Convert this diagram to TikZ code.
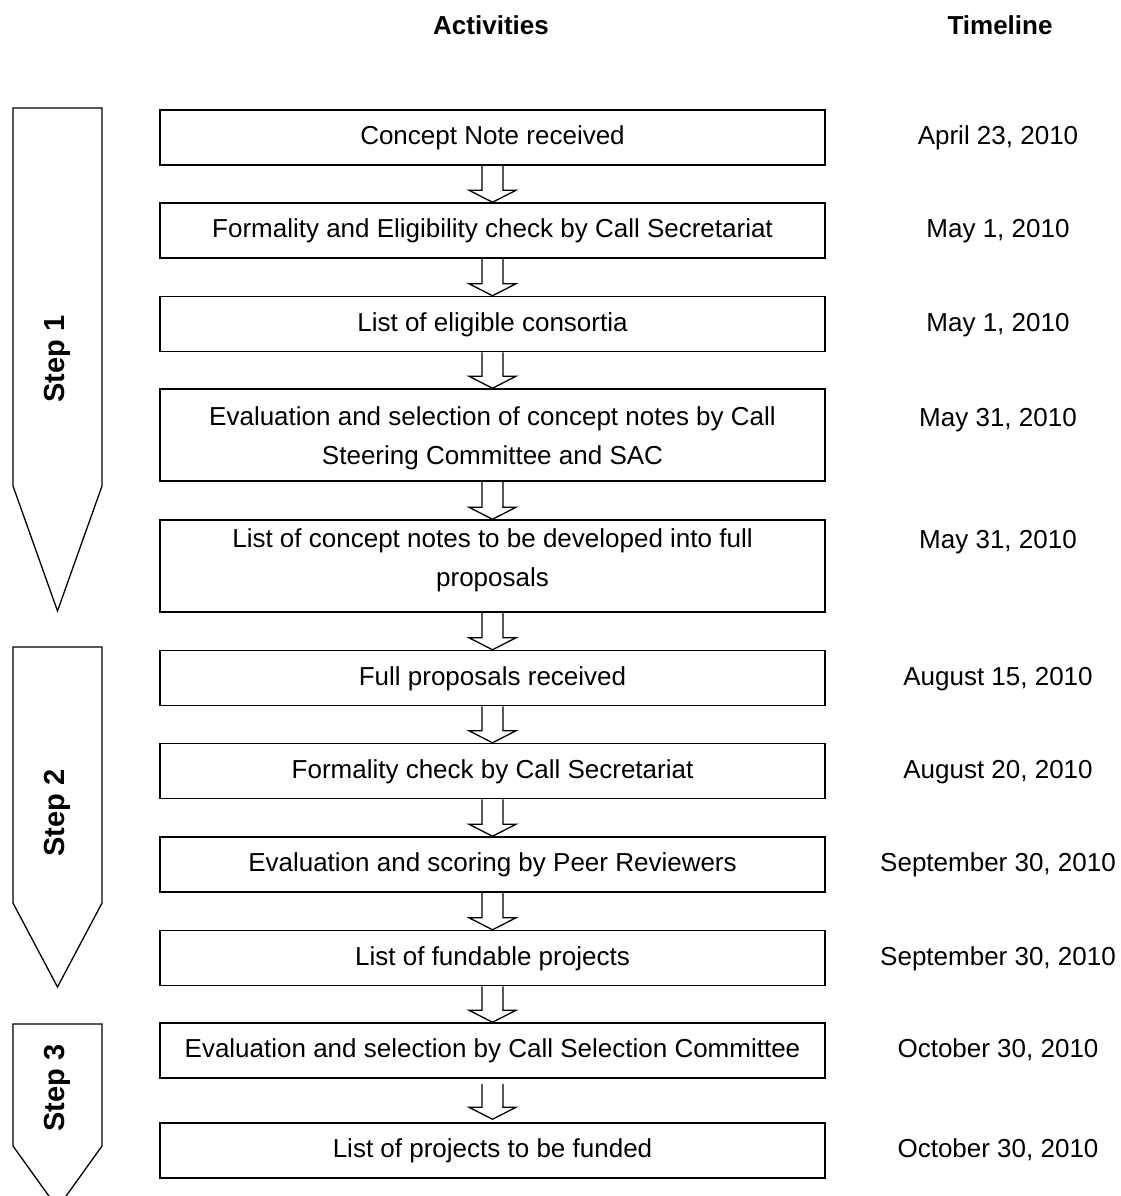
\documentclass[tikz,border=0pt]{standalone}
\usepackage{fontspec}
\setmainfont{Liberation Sans}
\usetikzlibrary{calc}
\newcommand{\hollowarr}[4]{%
  \draw[arrline] ($(#1.south)+(-10.5,#3)$) -- ($(#2.north)+(-10.5,-12-#4)$) -- ($(#2.north)+(-23.5,-12-#4)$) -- ($(#2.north)+(0,-#4)$) -- ($(#2.north)+(23.5,-12-#4)$) -- ($(#2.north)+(10.5,-12-#4)$) -- ($(#1.south)+(10.5,#3)$);}
\begin{document}
\begin{tikzpicture}[x=1pt,y=-1pt,
  box/.style={draw, line width=1.5pt, minimum width=665pt, inner sep=0pt, align=center,
    font=\fontsize{26}{30}\selectfont},
  sbox/.style={box, minimum height=55pt, text height=19pt, text depth=5pt},
  dbox/.style={box, minimum height=92pt},
  twoline/.style={inner sep=0pt, align=center, font=\fontsize{26}{39}\selectfont},
  datelbl/.style={font=\fontsize{26}{30}\selectfont, text height=19pt, text depth=5pt},
  headlbl/.style={font=\fontsize{26}{30}\selectfont\bfseries, text height=19pt, text depth=5pt},
  stepline/.style={draw, line width=1.3pt, line join=miter},
  steplbl/.style={font=\fontsize{29}{34}\selectfont\bfseries, rotate=90},
  arrline/.style={line width=1.3pt, line join=miter}]
\useasboundingbox (0,0) rectangle (1121,1196);
\clip (0,0) rectangle (1121,1196);
% headers
\node[headlbl] (hact) at (491,28) {Activities};
\node[headlbl] (htime) at (1000,28) {Timeline};
% step shapes
\draw[stepline] (13,108) -- (102,108) -- (102,486) -- (57.5,611) -- (13,486) -- cycle;
\draw[stepline] (13,647) -- (102,647) -- (102,903) -- (57.5,987) -- (13,903) -- cycle;
\draw[stepline] (13,1024) -- (102,1024) -- (102,1146) -- (57.5,1208) -- (13,1146) -- cycle;
\node[steplbl] (s1) at (57.5,359) {Step 1};
\node[steplbl] (s2) at (57.5,813) {Step 2};
\node[steplbl] (s3) at (57.5,1088) {Step 3};
% boxes
\node[sbox] (b1) at (492.5,137.5) {Concept Note received};
\node[sbox] (b2) at (492.5,230.5) {Formality and Eligibility check by Call Secretariat};
\node[sbox] (b3) at (492.5,324) {List of eligible consortia};
\node[dbox] (b4) at (492.5,435) {};
\node[twoline] (b4t) at (492.5,438.5) {Evaluation and selection of concept notes by Call\\Steering Committee and SAC};
\node[dbox] (b5) at (492.5,566) {};
\node[twoline] (b5t) at (492.5,560.5) {List of concept notes to be developed into full\\proposals};
\node[sbox] (b6) at (492.5,678) {Full proposals received};
\node[sbox] (b7) at (492.5,771) {Formality check by Call Secretariat};
\node[sbox] (b8) at (492.5,864.5) {Evaluation and scoring by Peer Reviewers};
\node[sbox] (b9) at (492.5,958) {List of fundable projects};
\node[sbox] (b10) at (492.5,1050.5) {Evaluation and selection by Call Selection Committee};
\node[sbox] (b11) at (492.5,1150.5) {List of projects to be funded};
% connectors
\hollowarr{b1}{b2}{0}{0}
\hollowarr{b2}{b3}{0}{0}
\hollowarr{b3}{b4}{0}{0}
\hollowarr{b4}{b5}{0}{0}
\hollowarr{b5}{b6}{0}{0}
\hollowarr{b6}{b7}{0}{0}
\hollowarr{b7}{b8}{0}{0}
\hollowarr{b8}{b9}{0}{0}
\hollowarr{b9}{b10}{0}{0}
\hollowarr{b10}{b11}{5}{3}
% timeline
\node[datelbl] (d1) at (998,137.5) {April 23, 2010};
\node[datelbl] (d2) at (998,230.5) {May 1, 2010};
\node[datelbl] (d3) at (998,324) {May 1, 2010};
\node[datelbl] (d4) at (998,419) {May 31, 2010};
\node[datelbl] (d5) at (998,541) {May 31, 2010};
\node[datelbl] (d6) at (998,678) {August 15, 2010};
\node[datelbl] (d7) at (998,771) {August 20, 2010};
\node[datelbl] (d8) at (998,864.5) {September 30, 2010};
\node[datelbl] (d9) at (998,958) {September 30, 2010};
\node[datelbl] (d10) at (998,1050.5) {October 30, 2010};
\node[datelbl] (d11) at (998,1150.5) {October 30, 2010};
\end{tikzpicture}
\end{document}
